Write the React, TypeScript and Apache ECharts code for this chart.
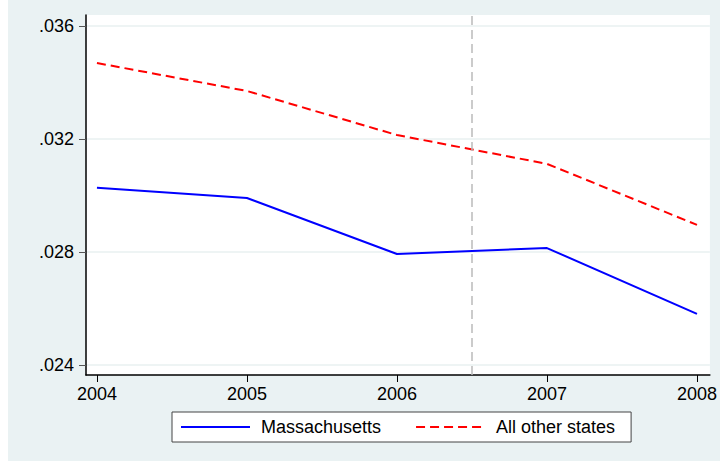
import React, { useEffect, useRef } from "react";
import * as echarts from "echarts";

const years = [2004, 2005, 2006, 2007, 2008];
const massachusetts = [0.03027, 0.02991, 0.02793, 0.02814, 0.02581];
const otherStates = [0.03469, 0.0337, 0.03214, 0.03112, 0.02896];
const yTicks = [0.024, 0.028, 0.032, 0.036];
const policyYear = 2006.5;
const seriesNames = ["Massachusetts", "All other states"];

const FONT = "'Liberation Sans', Arial, Helvetica, sans-serif";

export default function App() {
  const ref = useRef<HTMLDivElement>(null);
  useEffect(() => {
    if (!ref.current) return;
    const chart = echarts.init(ref.current, null, { renderer: "svg" });
    chart.setOption({
      animation: false,
      backgroundColor: "#eaf2f3",
      textStyle: { fontFamily: FONT },
      grid: {
        left: 78,
        right: 5,
        top: 15,
        bottom: 86,
        show: true,
        backgroundColor: "#ffffff",
        borderWidth: 0,
      },
      legend: {
        left: 164,
        top: 412,
        orient: "horizontal",
        backgroundColor: "#ffffff",
        borderColor: "#444444",
        borderWidth: 1,
        borderRadius: 0,
        padding: [6, 16, 6, 8],
        itemGap: 34,
        itemWidth: 69,
        itemHeight: 17,
        itemStyle: { opacity: 0 },
        textStyle: { fontFamily: FONT, fontSize: 18, color: "#000", padding: [0, 0, 0, 6] },
        data: seriesNames,
      },
      xAxis: {
        type: "value",
        min: 2003.927,
        max: 2008.086,
        axisLine: { show: true, onZero: false, lineStyle: { color: "#000", width: 1.5 } },
        axisTick: { show: true, customValues: years, length: 7, lineStyle: { color: "#000" } },
        axisLabel: {
          customValues: years,
          fontSize: 18,
          color: "#000",
          margin: 10,
          fontFamily: FONT,
          formatter: (v: number) => String(v),
        },
        splitLine: { show: false },
      },
      yAxis: {
        type: "value",
        min: 0.023646,
        max: 0.036389,
        axisLine: { show: true, onZero: false, lineStyle: { color: "#000", width: 1.5 } },
        axisTick: { show: true, customValues: yTicks, length: 7, lineStyle: { color: "#555" } },
        axisLabel: {
          customValues: yTicks,
          fontSize: 18,
          color: "#000",
          margin: 12,
          fontFamily: FONT,
          formatter: (v: number) => v.toFixed(3).replace(/^0/, ""),
        },
        splitLine: { show: true, lineStyle: { color: "#e8f0f1", width: 1.5 } },
      },
      series: [
        {
          name: seriesNames[0],
          type: "line",
          symbol: "none",
          data: years.map((y, i) => [y, massachusetts[i]]),
          lineStyle: { color: "#0000ff", width: 2 },
          itemStyle: { color: "#0000ff" },
          markLine: {
            silent: true,
            symbol: "none",
            label: { show: false },
            lineStyle: { color: "#bbbbbb", type: [9, 5], width: 1.5 },
            data: [{ xAxis: policyYear }],
          },
        },
        {
          name: seriesNames[1],
          type: "line",
          symbol: "none",
          data: years.map((y, i) => [y, otherStates[i]]),
          lineStyle: { color: "#ff0000", width: 2, type: [9, 5] },
          itemStyle: { color: "#ff0000" },
        },
      ],
    });
    return () => chart.dispose();
  }, []);
  return (
    <div
      ref={ref}
      style={{ position: "absolute", left: 8, top: 0, width: 712, height: 461 }}
    />
  );
}
